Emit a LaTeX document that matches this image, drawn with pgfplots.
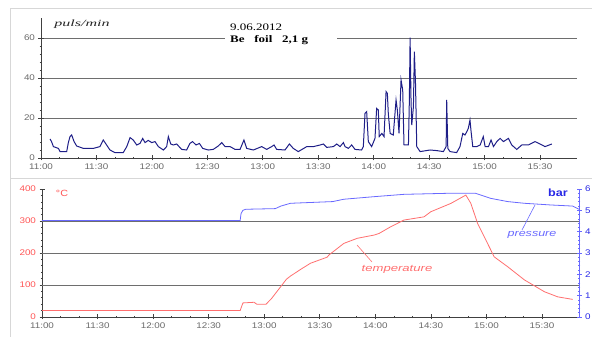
\documentclass[border=0pt]{standalone}
\usepackage{fontspec}
\setmainfont{Liberation Sans}[FakeStretch=1.2]
\newfontfamily\tnr{Liberation Serif}[FakeStretch=1.3]
\usepackage{graphicx}
\usepackage{pgfplots}
\pgfplotsset{compat=1.18}
\definecolor{navy}{RGB}{30,30,135}
\definecolor{tempred}{RGB}{255,110,110}
\definecolor{presblue}{RGB}{105,105,255}
\definecolor{tlgray}{RGB}{105,105,105}
\definecolor{gridc}{RGB}{110,110,110}
\definecolor{framec}{RGB}{215,215,215}
\definecolor{labred}{RGB}{255,85,85}
\definecolor{labblue}{RGB}{40,40,230}
\begin{document}
\begin{tikzpicture}[x=1pt,y=1pt]
\useasboundingbox (0,0) rectangle (592,337);
\draw[framec, line width=0.8pt] (10,0) -- (10,329) -- (592,329);
\draw[framec, line width=0.8pt] (10,159) -- (592,159);
% ---------------- top panel ----------------
\begin{axis}[at={(41pt,179pt)}, anchor=south west, scale only axis,
  width=536pt, height=140pt,
  xmin=0, xmax=290, ymin=0, ymax=70,
  axis x line=bottom, axis y line=left,
  axis line style={-, black!75, line width=0.8pt},
  xtick={0,30,...,270},
  xticklabels={11:00,11:30,12:00,12:30,13:00,13:30,14:00,14:30,15:00,15:30},
  minor x tick num=2,
  ytick={0,20,40,60}, minor y tick num=4,
  ymajorgrids, grid style={gridc, line width=0.8pt},
  tick align=center, major tick length=5pt, minor tick length=2.5pt,
  tick style={black!75, line width=0.6pt},
  tick label style={font=\fontsize{8.2}{10}\selectfont, text=tlgray},
  /pgf/number format/assume math mode=true,
  clip=false]
\addplot[navy, line width=1.0pt] coordinates {
(4.9,9.5) (5.7,8.2) (6.7,5.7) (9.4,4.8) (10.3,3.2) (13.9,3.2) (14.8,7.7) (15.7,10.7) (16.6,11.5) (17.9,8.2) (19.3,6) (22.9,4.8) (28.3,4.8) (31.9,5.7) (33.7,9) (35.5,6.5) (37.3,4) (40,2.7) (44.5,2.7) (46.4,5.7) (48.2,10.2) (49.9,9) (51.8,6.5) (53.6,7.3) (55,9.8) (56.3,7.7) (58,8.8) (59.9,7.7) (61.7,8.2) (63.5,5.7) (66.2,4) (68,5.7) (68.9,10.7) (70.2,7) (71.6,6.5) (73.4,7) (76.1,4.3) (78.8,4) (80.6,7.3) (82,8.2) (83.9,6.5) (85.7,7.3) (87.5,4.8) (90.5,4) (93.2,4.3) (95.9,6) (97.8,7.7) (99.6,5.7) (102.3,5.7) (105,4.3) (107.7,4.3) (109.8,9) (111.3,4.8) (114.9,4) (119.4,5.7) (122.1,4.3) (124.8,5.7) (126.1,6.5) (127.5,4.3) (132,4) (134.4,7) (136.5,4.8) (139.2,3.2) (143.8,5.7) (147.4,5.7) (151,6.5) (152.8,7) (154.6,5.3) (158.2,5.7) (160,7) (161.8,5.7) (163.6,7.7) (164.5,5.7) (166.3,4.8) (168.1,6.5) (169.9,4.3) (173.5,4) (174.4,5.7) (175.3,22.3) (176.2,23.2) (177.1,8.2) (178.9,5.7) (180.7,9.8) (181.6,24.8) (182.5,24) (183,10.7) (184.4,12.3) (185.6,10.7) (186.7,33.2) (187.4,32.3) (187.9,22.3) (188.9,12.3) (190.6,11.5) (192.1,29) (192.8,24) (193.7,12.3) (194.8,39) (195.7,34) (196.4,6.5) (198.8,6.5) (199.3,29) (199.7,60.2) (200.2,29) (200.6,16.5) (201.5,25.7) (202,53.2) (202.6,38.2) (203.3,5.7) (205.1,3.2) (210.5,4) (214.1,3.7) (217.7,3.2) (219.2,5.7) (219.5,29) (220.1,4.8) (221.3,3.2) (224.9,2.7) (226.7,5.7) (228.2,12.3) (229.4,11.5) (230.4,13.2) (231.2,14.8) (232.1,19) (232.7,13.2) (233.6,5.7) (235.8,5.7) (237.6,6.5) (239.3,10.7) (240.3,5.7) (242.1,5.7) (243.5,9) (244.8,5.7) (246.6,8.2) (248.4,9.8) (250.2,8.2) (252.9,9.8) (254.7,6.5) (257.4,4.3) (260.1,6.5) (263.7,6.5) (267.3,8.2) (270,7) (272.7,5.7) (276.4,7)
};
\end{axis}
\fill[white] (225,294) rectangle (337,302);
\node[anchor=west, inner sep=0pt, font=\tnr\bfseries\fontsize{10}{12}\selectfont] at (230,296.5) {Be\ \ \ foil\ \ \ 2,1 g};
\node[anchor=west, inner sep=0pt, font=\tnr\fontsize{10}{12}\selectfont] at (230,310) {9.06.2012};
\node[inner sep=0pt, font=\tnr\itshape\fontsize{9.5}{12}\selectfont, text=black!85] at (82,313) {\scalebox{1.3}[1]{puls/min}};
% ---------------- bottom panel ----------------
\begin{axis}[at={(42pt,20pt)}, anchor=south west, scale only axis,
  width=537pt, height=128pt,
  xmin=0, xmax=290, ymin=0, ymax=400,
  axis x line=bottom, axis y line=left,
  axis line style={-, black!75, line width=0.8pt},
  xtick={0,30,...,270},
  xticklabels={11:00,11:30,12:00,12:30,13:00,13:30,14:00,14:30,15:00,15:30},
  minor x tick num=2,
  ytick={0,100,200,300,400}, minor y tick num=4,
  extra y ticks={100,200,300}, extra y tick labels={},
  extra y tick style={grid=major, major tick length=0pt},
  grid style={gridc, line width=0.8pt},
  tick align=center, major tick length=5pt, minor tick length=2.5pt,
  tick style={black!75, line width=0.6pt},
  x tick label style={font=\fontsize{8.2}{10}\selectfont, text=tlgray},
  y tick label style={font=\fontsize{8.2}{10}\selectfont, text=labred},
  /pgf/number format/assume math mode=true,
  clip=false]
\addplot[tempred, line width=0.8pt] coordinates {
(0,20) (107,20) (108.5,44) (114.5,46) (116,40) (121,40) (124,58) (128,88) (132,118) (134.2,128) (140,150) (145,168) (154,187) (155,194) (163,230) (170.3,246) (179.3,256) (182,261) (188.3,282) (195.5,303) (206.3,313) (210,329) (220.8,355) (228.9,381) (231.6,355) (235.2,293) (242.4,209) (244.2,188) (251.5,157) (260.5,116) (271.3,79) (278.5,63) (286.6,55)
};
\end{axis}
\begin{axis}[at={(42pt,20pt)}, anchor=south west, scale only axis,
  width=537pt, height=128pt,
  xmin=0, xmax=290, ymin=0, ymax=6,
  axis x line=none, axis y line=right,
  axis line style={-, presblue, line width=0.8pt},
  ytick={0,1,2,3,4,5,6}, minor y tick num=4,
  tick align=center, major tick length=5pt, minor tick length=2.5pt,
  tick style={presblue, line width=0.6pt},
  y tick label style={font=\fontsize{8.2}{10}\selectfont, text=labblue},
  /pgf/number format/assume math mode=true,
  clip=false]
\addplot[presblue, line width=0.8pt] coordinates {
(0,4.52) (107,4.52) (107.5,4.85) (108.5,5.0) (110,5.05) (126,5.08) (129,5.2) (134.2,5.33) (157,5.41) (163,5.52) (179.3,5.64) (195.5,5.75) (220,5.8) (234,5.8) (242.4,5.56) (251.5,5.41) (260.5,5.33) (275,5.25) (286.6,5.2) (290,5.05)
};
\end{axis}
% ---------------- annotations ----------------
\node[inner sep=0pt, text=labred, font=\fontsize{9}{11}\selectfont] at (62,144) {°C};
\node[inner sep=0pt, text=labblue, font=\bfseries\fontsize{10.5}{12}\selectfont] at (558,144) {bar};
\draw[tempred, line width=0.6pt] (357,92) -- (372,75);
\node[inner sep=0pt, text=tempred, font=\itshape\fontsize{9.5}{11}\selectfont] at (397,68) {\scalebox{1.15}[1]{temperature}};
\draw[presblue, line width=0.6pt] (535,132) -- (522,107);
\node[inner sep=0pt, text=presblue, font=\itshape\fontsize{9.5}{11}\selectfont] at (532,102) {\scalebox{1.1}[1]{pressure}};
\end{tikzpicture}
\end{document}
